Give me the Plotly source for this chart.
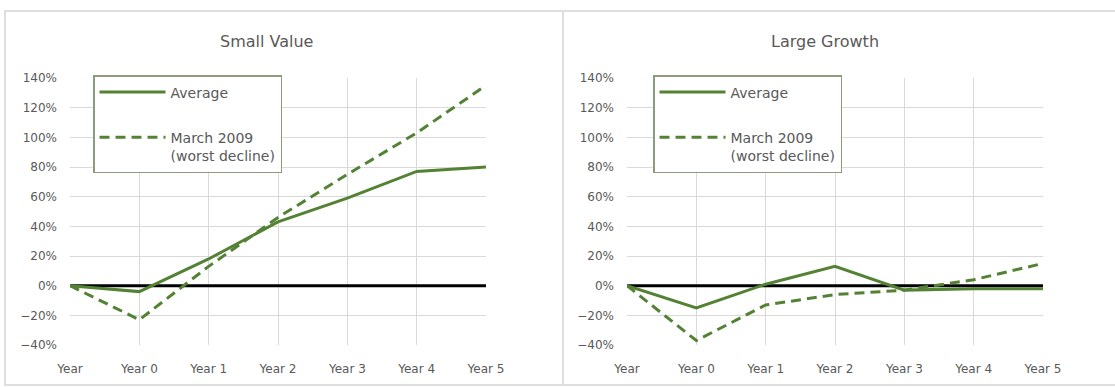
import plotly.graph_objects as go

W, H = 1115, 387

years = ["Year", "Year 0", "Year 1", "Year 2", "Year 3", "Year 4", "Year 5"]
sv_average = [0.0, -0.04, 0.18, 0.43, 0.59, 0.77, 0.80]
sv_march = [0.0, -0.23, 0.13, 0.46, 0.75, 1.03, 1.35]
lg_average = [0.0, -0.15, 0.01, 0.13, -0.03, -0.02, -0.02]
lg_march = [0.0, -0.37, -0.13, -0.06, -0.03, 0.04, 0.15]
zero_line = [0, 0, 0, 0, 0, 0, 0]
titles = ["Small Value", "Large Growth"]

GREEN = "#548235"
TXT = "#595959"
GRID = "#d9d9d9"
FONT = "DejaVu Sans"


def px_x(p):
    return p / W


def px_y(p):
    return 1 - p / H


fig = go.Figure()

panels = [
    ("x", "y", "legend", sv_average, sv_march),
    ("x2", "y2", "legend2", lg_average, lg_march),
]
for xa, ya, leg, avg, mar in panels:
    fig.add_trace(go.Scatter(x=years, y=zero_line, xaxis=xa, yaxis=ya, mode="lines",
                             line=dict(color="black", width=3), showlegend=False,
                             hoverinfo="skip"))
    fig.add_trace(go.Scatter(x=years, y=avg, xaxis=xa, yaxis=ya, mode="lines",
                             name="Average", legend=leg, legendgroup="a" + xa,
                             line=dict(color=GREEN, width=3)))
    fig.add_trace(go.Scatter(x=years, y=mar, xaxis=xa, yaxis=ya, mode="lines",
                             name="March 2009<br>(worst decline)", legend=leg,
                             legendgroup="m" + xa,
                             line=dict(color=GREEN, width=3, dash="10px,6px")))

xaxis_common = dict(type="category", categoryorder="array", categoryarray=years,
                    range=[0, 6], showgrid=True, gridcolor=GRID, gridwidth=1,
                    showline=False, zeroline=False, ticks="", tickangle=0,
                    tickfont=dict(family=FONT, size=12, color=TXT),
                    ticklabelstandoff=15, automargin=False)
yaxis_common = dict(range=[-0.4, 1.4], dtick=0.2, tick0=0, tickformat=".0%",
                    showgrid=True, gridcolor=GRID, gridwidth=1, showline=False,
                    zeroline=False, ticks="",
                    tickfont=dict(family=FONT, size=12, color=TXT),
                    ticklabelstandoff=12, automargin=False)

ydom = [px_y(345), px_y(78)]

legend_common = dict(xref="paper", yref="paper", xanchor="left", yanchor="top",
                     bgcolor="white", bordercolor="#8c9c7c", borderwidth=1.5,
                     font=dict(family=FONT, size=14, color=TXT),
                     tracegroupgap=24, itemwidth=66, valign="top")

fig.update_layout(
    width=W, height=H, autosize=False,
    margin=dict(l=0, r=0, t=0, b=0, autoexpand=False),
    paper_bgcolor="white", plot_bgcolor="white",
    font=dict(family=FONT, color=TXT),
    xaxis=dict(domain=[px_x(70), px_x(486)], anchor="y", **xaxis_common),
    yaxis=dict(domain=ydom, anchor="x", **yaxis_common),
    xaxis2=dict(domain=[px_x(627), px_x(1043)], anchor="y2", **xaxis_common),
    yaxis2=dict(domain=ydom, anchor="x2", **yaxis_common),
    legend=dict(x=px_x(93), y=px_y(75), **legend_common),
    legend2=dict(x=px_x(653), y=px_y(75), **legend_common),
    showlegend=True,
)

# panel titles
for cx, t in zip([266, 825], titles):
    fig.add_annotation(x=px_x(cx), y=px_y(42), xref="paper", yref="paper",
                       text=t, showarrow=False, xanchor="center", yanchor="middle",
                       font=dict(family=FONT, size=16, color=TXT))

# panel borders
fig.add_shape(type="rect", xref="paper", yref="paper",
              x0=px_x(5), x1=px_x(1125), y0=px_y(385), y1=px_y(11),
              line=dict(color="#dedede", width=2), layer="below")
fig.add_shape(type="line", xref="paper", yref="paper",
              x0=px_x(563), x1=px_x(563), y0=px_y(385), y1=px_y(11),
              line=dict(color="#dedede", width=2), layer="below")

fig.write_html("out.html")
